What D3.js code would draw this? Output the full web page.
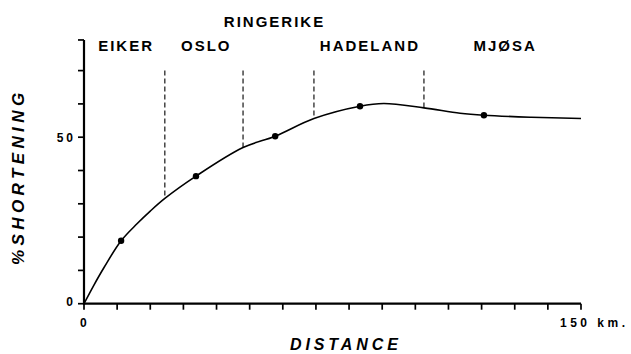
<!DOCTYPE html>
<html>
<head>
<meta charset="utf-8">
<script src="https://cdn.jsdelivr.net/npm/d3@7"></script>
<style>
	body { margin: 0; background: #fff; }
	svg { display: block; font-family: "Liberation Sans", Arial, sans-serif; }
</style>
</head>
<body>
<div id="chartContent"></div>
<script>
// curve of % shortening along the section (km, %)
var curveKm = [0, 3, 6, 11.2, 16, 20, 24.4, 33.8, 48, 57.7, 69.4, 83.3, 90.5, 102.6, 113.5, 120.7, 135, 150];
var curvePct = [0, 5.6, 10.8, 18.9, 24, 27.8, 31.6, 38.3, 46.9, 50.3, 55.6, 59.3, 60.1, 58.8, 57.2, 56.6, 56, 55.6];

// measured sites
var siteKm = [11.2, 33.8, 57.7, 83.3, 120.7];
var sitePct = [18.9, 38.3, 50.3, 59.3, 56.6];

// region boundaries (dashed), drawn from 70% down to the curve
var boundaryKm = [24.4, 48, 69.4, 102.6];
var boundaryPct = [31.6, 46.9, 55.6, 58.8];
var boundaryTop = 70;

var regionNames = ["EIKER", "OSLO", "RINGERIKE", "HADELAND", "MJØSA"];
var regionKm = [12.4, 36.6, 57.2, 86, 126.8];
var regionRow = [0, 0, 1, 0, 0];

var xTicks = d3.range(0, 151, 10);
var yTicks = [0, 10, 20, 30, 40, 50, 60, 70, 79.2];
var xLabels = [{v: 0, t: "0"}, {v: 150, t: "150 km."}];
var yLabels = [{v: 0, t: "0"}, {v: 50, t: "50"}];

var width = 631, height = 354;

var svg = d3.select("#chartContent")
	.append("svg")
	.attr("width", width)
	.attr("height", height);

var x = d3.scaleLinear().domain([0, 150]).range([84, 581]);
var y = d3.scaleLinear().domain([0, 80]).range([303.7, 37.3]);

// axes
svg.append("line")
	.attr("x1", x(0)).attr("x2", x(0))
	.attr("y1", y(0) + 1).attr("y2", y(79.2))
	.attr("stroke", "#000").attr("stroke-width", 2.2);
svg.append("line")
	.attr("x1", x(0) - 1).attr("x2", x(150))
	.attr("y1", y(0)).attr("y2", y(0))
	.attr("stroke", "#000").attr("stroke-width", 2.2);

svg.selectAll("line.ytick")
	.data(yTicks)
	.enter()
	.append("line")
		.attr("class", "ytick")
		.attr("x1", x(0) - 6).attr("x2", x(0))
		.attr("y1", function(d) { return y(d); })
		.attr("y2", function(d) { return y(d); })
		.attr("stroke", "#000").attr("stroke-width", 1.7);

svg.selectAll("line.xtick")
	.data(xTicks)
	.enter()
	.append("line")
		.attr("class", "xtick")
		.attr("x1", function(d) { return x(d); })
		.attr("x2", function(d) { return x(d); })
		.attr("y1", y(0)).attr("y2", y(0) + 6)
		.attr("stroke", "#000").attr("stroke-width", 1.7);

svg.selectAll("text.ylab")
	.data(yLabels)
	.enter()
	.append("text")
		.attr("class", "ylab")
		.attr("x", x(0) - 8)
		.attr("y", function(d) { return y(d.v) + 4.5 - (d.v == 0 ? 2 : 0); })
		.attr("text-anchor", "end")
		.attr("font-size", 12)
		.attr("font-weight", "bold")
		.attr("letter-spacing", "3px")
		.text(function(d) { return d.t; });

svg.selectAll("text.xlab")
	.data(xLabels)
	.enter()
	.append("text")
		.attr("class", "xlab")
		.attr("x", function(d) { return d.v == 0 ? x(d.v) - 4 : x(d.v) - 21; })
		.attr("y", y(0) + 23)
		.attr("font-size", 12)
		.attr("font-weight", "bold")
		.attr("letter-spacing", "3.5px")
		.text(function(d) { return d.t; });

// axis titles
svg.append("text")
	.attr("x", 290)
	.attr("y", 350)
	.attr("font-size", 16)
	.attr("font-weight", "bold")
	.attr("font-style", "italic")
	.attr("letter-spacing", "3.9px")
	.text("DISTANCE");

svg.append("text")
	.attr("transform", "translate(24,265) rotate(-90)")
	.attr("font-size", 17)
	.attr("font-weight", "bold")
	.attr("font-style", "italic")
	.attr("letter-spacing", "4.4px")
	.text("%SHORTENING");

// region boundaries
svg.selectAll("line.boundary")
	.data(boundaryKm)
	.enter()
	.append("line")
		.attr("class", "boundary")
		.attr("x1", function(d) { return x(d); })
		.attr("x2", function(d) { return x(d); })
		.attr("y1", y(boundaryTop))
		.attr("y2", function(d, i) { return y(boundaryPct[i]); })
		.attr("stroke", "#000")
		.attr("stroke-width", 1.1)
		.attr("stroke-dasharray", "5,3");

// region names
svg.selectAll("text.region")
	.data(regionNames)
	.enter()
	.append("text")
		.attr("class", "region")
		.attr("x", function(d, i) { return x(regionKm[i]) + 1; })
		.attr("y", function(d, i) { return regionRow[i] == 1 ? 27 : 51; })
		.attr("text-anchor", "middle")
		.attr("font-size", 15)
		.attr("font-weight", "bold")
		.attr("letter-spacing", "2px")
		.text(function(d) { return d; });

// shortening curve
var line = d3.line()
	.x(function(d) { return x(d[0]); })
	.y(function(d) { return y(d[1]); })
	.curve(d3.curveCatmullRom.alpha(0.5));

svg.append("path")
	.datum(d3.zip(curveKm, curvePct))
	.attr("d", line)
	.attr("fill", "none")
	.attr("stroke", "#000")
	.attr("stroke-width", 1.6);

svg.selectAll("circle.site")
	.data(d3.zip(siteKm, sitePct))
	.enter()
	.append("circle")
		.attr("class", "site")
		.attr("cx", function(d) { return x(d[0]); })
		.attr("cy", function(d) { return y(d[1]); })
		.attr("r", 3.2)
		.attr("fill", "#000");
</script>
</body>
</html>
